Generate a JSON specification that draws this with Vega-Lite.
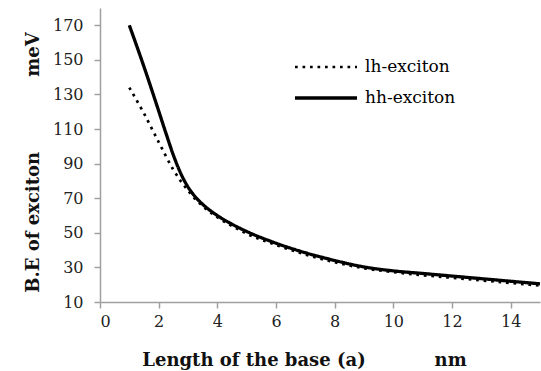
{
  "$schema": "https://vega.github.io/schema/vega-lite/v6.json",
  "width": 440,
  "height": 294,
  "autosize": {"type": "none"},
  "padding": {"left": 100, "top": 8, "right": 1, "bottom": 69},
  "background": "white",
  "config": {
    "view": {"stroke": null},
    "font": "DejaVu Serif",
    "axis": {"labelFont": "DejaVu Serif", "titleFont": "DejaVu Serif"},
    "legend": {"labelFont": "DejaVu Serif", "titleFont": "DejaVu Serif"}
  },
  "data": {
    "values": [
      {"a": 1, "be": 134, "series": "lh-exciton"},
      {"a": 1.5, "be": 119, "series": "lh-exciton"},
      {"a": 2, "be": 102.5, "series": "lh-exciton"},
      {"a": 2.5, "be": 86.5, "series": "lh-exciton"},
      {"a": 2.75, "be": 80, "series": "lh-exciton"},
      {"a": 3, "be": 74.5, "series": "lh-exciton"},
      {"a": 3.25, "be": 69.5, "series": "lh-exciton"},
      {"a": 3.5, "be": 65.5, "series": "lh-exciton"},
      {"a": 4, "be": 59, "series": "lh-exciton"},
      {"a": 4.5, "be": 54, "series": "lh-exciton"},
      {"a": 5, "be": 49.5, "series": "lh-exciton"},
      {"a": 6, "be": 43, "series": "lh-exciton"},
      {"a": 7, "be": 37.5, "series": "lh-exciton"},
      {"a": 8, "be": 33, "series": "lh-exciton"},
      {"a": 9, "be": 29.5, "series": "lh-exciton"},
      {"a": 10, "be": 27.3, "series": "lh-exciton"},
      {"a": 11, "be": 25.5, "series": "lh-exciton"},
      {"a": 12, "be": 24, "series": "lh-exciton"},
      {"a": 13, "be": 22.5, "series": "lh-exciton"},
      {"a": 14, "be": 21, "series": "lh-exciton"},
      {"a": 15, "be": 19.5, "series": "lh-exciton"},
      {"a": 1, "be": 170, "series": "hh-exciton"},
      {"a": 1.5, "be": 146, "series": "hh-exciton"},
      {"a": 2, "be": 120.5, "series": "hh-exciton"},
      {"a": 2.25, "be": 107.5, "series": "hh-exciton"},
      {"a": 2.5, "be": 95, "series": "hh-exciton"},
      {"a": 2.75, "be": 84.5, "series": "hh-exciton"},
      {"a": 3, "be": 76.5, "series": "hh-exciton"},
      {"a": 3.25, "be": 70.8, "series": "hh-exciton"},
      {"a": 3.5, "be": 66.5, "series": "hh-exciton"},
      {"a": 4, "be": 60, "series": "hh-exciton"},
      {"a": 4.5, "be": 55, "series": "hh-exciton"},
      {"a": 5, "be": 50.8, "series": "hh-exciton"},
      {"a": 6, "be": 44, "series": "hh-exciton"},
      {"a": 7, "be": 38.5, "series": "hh-exciton"},
      {"a": 8, "be": 34, "series": "hh-exciton"},
      {"a": 9, "be": 30.3, "series": "hh-exciton"},
      {"a": 10, "be": 28, "series": "hh-exciton"},
      {"a": 11, "be": 26.5, "series": "hh-exciton"},
      {"a": 12, "be": 25, "series": "hh-exciton"},
      {"a": 13, "be": 23.5, "series": "hh-exciton"},
      {"a": 14, "be": 22, "series": "hh-exciton"},
      {"a": 15, "be": 20.5, "series": "hh-exciton"}
    ]
  },
  "mark": {"type": "line", "interpolate": "monotone", "color": "black", "clip": true},
  "encoding": {
    "x": {
      "field": "a",
      "type": "quantitative",
      "scale": {"domain": [0, 15], "nice": false},
      "axis": {
        "values": [0, 2, 4, 6, 8, 10, 12, 14],
        "grid": false,
        "domainColor": "#a0a0a0",
        "domainWidth": 1.5,
        "tickColor": "#a0a0a0",
        "tickWidth": 1.5,
        "tickSize": 6,
        "labelFontSize": 16,
        "labelColor": "#222222",
        "labelPadding": 5,
        "title": "Length of the base (a)\u00a0\u00a0\u00a0\u00a0\u00a0\u00a0\u00a0\u00a0\u00a0\u00a0\u00a0nm",
        "titleFontSize": 18,
        "titleFontWeight": "bold",
        "titleColor": "#111111",
        "titleAlign": "center",
        "titleBaseline": "alphabetic",
        "titleX": 204,
        "titleY": 63
      }
    },
    "y": {
      "field": "be",
      "type": "quantitative",
      "scale": {"domain": [10, 180], "nice": false, "zero": false},
      "axis": {
        "values": [10, 30, 50, 70, 90, 110, 130, 150, 170],
        "grid": false,
        "domainColor": "#a0a0a0",
        "domainWidth": 1.5,
        "tickColor": "#a0a0a0",
        "tickWidth": 1.5,
        "tickSize": 6,
        "labelFontSize": 16,
        "labelColor": "#222222",
        "labelPadding": 11,
        "title": "B.E of exciton\u00a0\u00a0\u00a0\u00a0\u00a0\u00a0\u00a0\u00a0\u00a0\u00a0\u00a0\u00a0meV",
        "titleFontSize": 18,
        "titleFontWeight": "bold",
        "titleColor": "#111111",
        "titleAngle": -90,
        "titleAlign": "center",
        "titleBaseline": "alphabetic",
        "titleX": -62,
        "titleY": 154
      }
    },
    "strokeDash": {
      "field": "series",
      "type": "nominal",
      "scale": {"domain": ["lh-exciton", "hh-exciton"], "range": [[2.7, 4.8], [1, 0]]},
      "legend": {
        "title": null,
        "orient": "none",
        "legendX": 193,
        "legendY": 43.5,
        "symbolType": "stroke",
        "symbolSize": 3844,
        "symbolStrokeWidth": 3,
        "symbolStrokeColor": "black",
        "labelFontSize": 17,
        "labelColor": "black",
        "labelOffset": 6,
        "clipHeight": 31,
        "rowPadding": 0
      }
    },
    "strokeWidth": {
      "field": "series",
      "type": "nominal",
      "scale": {"domain": ["lh-exciton", "hh-exciton"], "range": [2.7, 3.3]},
      "legend": null
    }
  }
}
